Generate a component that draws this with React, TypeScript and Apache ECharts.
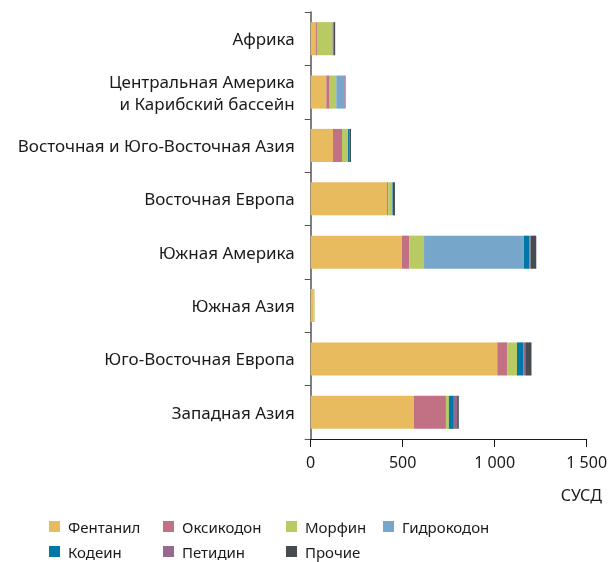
import React, { useEffect, useRef } from "react";
import * as echarts from "echarts";

const categories = [
  "Африка",
  "Центральная Америка\nи Карибский бассейн",
  "Восточная и Юго-Восточная Азия",
  "Восточная Европа",
  "Южная Америка",
  "Южная Азия",
  "Юго-Восточная Европа",
  "Западная Азия",
];

const seriesNames = ["Фентанил", "Оксикодон", "Морфин", "Гидрокодон", "Кодеин", "Петидин", "Прочие"];
const seriesColors = ["#E8BB5F", "#C27083", "#B8CA62", "#76A7CB", "#0077A6", "#946A8F", "#464C50"];

const fentanyl = [27, 85, 121, 415, 496, 14, 1014, 561];
const oxycodone = [7, 18, 49, 7, 40, 0, 54, 174];
const morphine = [85, 36, 33, 22, 80, 7, 53, 16];
const hydrocodone = [0, 44, 0, 0, 543, 0, 0, 0];
const codeine = [0, 0, 9, 3, 29, 0, 34, 27];
const pethidine = [5, 7, 0, 0, 7, 0, 11, 18];
const others = [9, 0, 7, 11, 31, 0, 34, 9];

const seriesData = [fentanyl, oxycodone, morphine, hydrocodone, codeine, pethidine, others];

const xTicks = [0, 500, 1000, 1500];

const legendPos = [
  [49, 519], [163, 519], [286, 519], [383, 519],
  [49, 544], [163, 544], [286, 544],
];

const FONT = "Noto Sans";

export default function App() {
  const ref = useRef<HTMLDivElement>(null);
  useEffect(() => {
    if (!ref.current) return;
    const chart = echarts.init(ref.current, undefined, { renderer: "svg" });
    const fmt = (v: number) => {
      const s = String(Math.round(v));
      return s.replace(/\B(?=(\d{3})+(?!\d))/g, " ");
    };
    chart.setOption({
      animation: false,
      textStyle: { fontFamily: FONT },
      grid: { left: 310.7, right: 24.3, top: 12, bottom: 123, containLabel: false },
      xAxis: {
        type: "value",
        min: xTicks[0],
        max: xTicks[xTicks.length - 1],
        interval: 500,
        splitLine: { show: false },
        axisLine: { show: true, lineStyle: { color: "#1a1a1a", width: 1 } },
        axisTick: { show: true, length: 8, lineStyle: { color: "#1a1a1a" } },
        axisLabel: { color: "#1a1a1a", fontSize: 16, fontFamily: FONT, margin: 15, formatter: (v: number) => fmt(v) },
      },
      yAxis: {
        type: "category",
        data: categories,
        inverse: true,
        axisLine: { show: true, lineStyle: { color: "#555", width: 1.5 } },
        axisTick: { show: true, length: 6, lineStyle: { color: "#555" } },
        axisLabel: { color: "#1a1a1a", fontSize: 17, fontFamily: FONT, margin: 16, lineHeight: 22 },
      },
      legend: seriesNames.map((n, i) => ({
        data: [n],
        left: legendPos[i][0],
        top: legendPos[i][1],
        icon: "rect",
        itemWidth: 11,
        itemHeight: 11,
        padding: 0,
        selectedMode: false,
        textStyle: { fontSize: 15, color: "#1a1a1a", fontFamily: FONT, padding: [0, 0, 0, 3] },
      })),
      graphic: [
        {
          type: "text",
          right: 9,
          top: 487,
          style: { text: "СУСД", fontSize: 16, fill: "#1a1a1a", fontFamily: FONT },
        },
      ],
      series: seriesNames.map((n, i) => ({
        name: n,
        type: "bar",
        stack: "total",
        barCategoryGap: "38%",
        data: seriesData[i],
        itemStyle: { color: seriesColors[i] },
      })),
    });
    return () => chart.dispose();
  }, []);
  return <div ref={ref} style={{ position: "fixed", left: 0, top: 0, width: 611, height: 562 }} />;
}
